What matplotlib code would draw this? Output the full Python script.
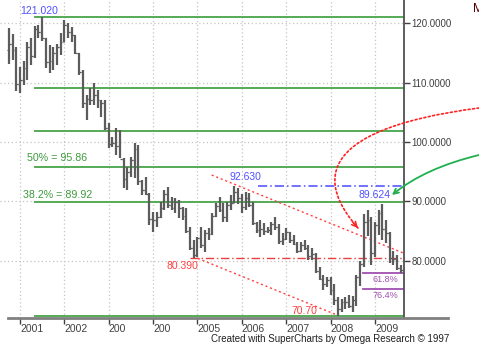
import numpy as np
import pandas as pd
import matplotlib
matplotlib.use('Agg')
import matplotlib.pyplot as plt
from matplotlib.path import Path
from matplotlib.patches import FancyArrowPatch

plt.rcParams['font.family'] = ['Liberation Sans', 'DejaVu Sans']

# Monthly bars, Oct 2000 - Aug 2009
months = pd.period_range('2000-10', '2009-08', freq='M')
opens = [115.5, 116.6, 115.5,
         109.8, 110.5, 112.5, 116.0, 114.5, 119.0, 118.5, 117.5, 113.5, 113.6, 115.0, 116.0,
         116.8, 119.8, 118.5, 118.0, 115.0, 111.8, 106.5, 107.3, 107.0, 108.0, 107.0, 106.5,
         102.3, 99.7, 99.9, 99.4, 97.2, 93.7, 95.0, 97.0, 98.8, 93.5, 92.0, 91.2,
         87.0, 86.8, 87.4, 88.8, 91.2, 89.4, 88.9, 89.9, 88.8, 87.6, 85.0, 82.1,
         81.0, 83.8, 82.6, 84.6, 84.5, 87.6, 89.3, 88.6, 87.4, 89.4, 89.8, 91.6,
         90.5, 89.0, 90.6, 89.4, 86.3, 85.2, 85.4, 85.0, 85.2, 86.2, 85.6, 83.4,
         83.7, 84.9, 83.5, 82.9, 81.6, 82.6, 82.2, 80.8, 81.2, 78.3, 76.9, 76.0,
         76.7, 75.1, 73.3, 71.9, 73.0, 73.0, 72.4, 73.3, 77.2, 79.4, 86.6, 86.8,
         81.3, 86.0, 88.0, 85.3, 84.6, 80.4, 80.3, 78.8]
highs = [119.2, 118.2, 116.0,
         112.6, 113.6, 116.8, 117.6, 119.5, 119.7, 121.02, 117.5, 116.3, 116.0, 116.6, 118.3,
         120.5, 120.0, 119.3, 118.0, 115.0, 112.1, 107.9, 109.1, 109.9, 108.7, 107.1, 107.1,
         103.2, 100.8, 102.4, 102.0, 97.3, 95.8, 97.5, 99.8, 99.5, 93.6, 94.1, 91.4,
         88.2, 88.2, 89.9, 91.9, 92.4, 90.8, 90.6, 90.3, 89.1, 88.9, 85.7, 83.5,
         84.0, 85.7, 85.2, 85.5, 88.1, 89.7, 90.8, 89.7, 89.9, 91.1, 92.63, 92.2,
         91.2, 91.6, 91.4, 89.9, 86.6, 86.9, 86.4, 85.7, 86.6, 87.4, 86.2, 84.6,
         85.5, 84.9, 84.4, 83.2, 83.2, 83.5, 82.7, 82.2, 81.3, 79.0, 77.6, 77.3,
         77.3, 76.0, 73.9, 73.5, 73.9, 74.3, 74.0, 77.6, 80.0, 87.9, 88.5, 87.3,
         86.6, 88.5, 89.624, 86.9, 84.9, 81.6, 81.0, 79.3]
lows = [113.1, 113.8, 108.6,
        108.2, 109.6, 110.4, 112.9, 114.1, 117.5, 117.1, 112.4, 111.6, 112.1, 112.9, 114.6,
        116.8, 117.5, 116.8, 114.8, 111.3, 105.7, 103.7, 106.2, 106.2, 105.7, 104.2, 102.0,
        99.0, 99.2, 97.8, 97.3, 92.3, 91.9, 94.1, 94.0, 92.8, 91.1, 91.1, 86.0,
        84.9, 85.7, 87.2, 88.6, 88.9, 88.6, 88.1, 87.2, 86.9, 84.7, 81.8, 80.39,
        80.7, 82.2, 81.5, 83.5, 84.4, 87.4, 88.2, 86.6, 86.6, 88.6, 89.7, 89.5,
        88.1, 88.6, 89.1, 86.1, 84.7, 84.0, 84.4, 84.7, 84.4, 85.2, 82.9, 82.6,
        83.5, 83.0, 82.7, 81.3, 81.5, 81.8, 80.2, 80.2, 78.0, 76.8, 75.1, 75.6,
        74.3, 72.6, 70.70, 71.4, 71.8, 72.1, 71.3, 72.3, 75.8, 79.0, 84.2, 79.3,
        80.6, 84.4, 83.5, 83.0, 79.7, 79.3, 78.5, 78.0]
closes = [116.6, 115.5, 109.8,
          110.5, 112.5, 116.0, 114.5, 119.0, 118.5, 117.5, 113.5, 113.6, 115.0, 116.0, 116.8,
          119.8, 118.5, 118.0, 115.0, 111.8, 106.5, 107.3, 107.0, 108.0, 107.0, 106.5, 102.3,
          99.7, 99.9, 99.4, 97.2, 93.7, 95.0, 97.0, 98.8, 93.5, 92.0, 91.2, 87.0,
          86.8, 87.4, 88.8, 91.2, 89.4, 88.9, 89.9, 88.8, 87.6, 85.0, 82.1, 81.0,
          83.8, 82.6, 84.6, 84.5, 87.6, 89.3, 88.6, 87.4, 89.4, 89.8, 91.6, 90.5,
          89.0, 90.6, 89.4, 86.3, 85.2, 85.4, 85.0, 85.2, 86.2, 85.6, 83.4, 83.7,
          84.9, 83.5, 82.9, 81.6, 82.6, 82.2, 80.8, 81.2, 78.3, 76.9, 76.0, 76.7,
          75.1, 73.3, 71.9, 73.0, 73.0, 72.4, 73.3, 77.2, 79.4, 86.6, 86.8, 81.3,
          86.0, 88.0, 85.3, 84.6, 80.4, 80.3, 78.8, 78.4]

# Fibonacci levels (121.02 high -> 70.70 low)
fib_levels = [121.02, 109.14, 101.80, 95.86, 89.92, 70.70]
fib_small = [77.93, 75.17]
fib_small_labels = ['61.8%', '76.4%']
year_ticks = [2001, 2002, 2003, 2004, 2005, 2006, 2007, 2008, 2009]
year_labels = ['2001', '2002', '200', '200', '2005', '2006', '2007', '2008', '2009']
price_ticks = [80, 90, 100, 110, 120]

x = months.year + (months.month - 1) / 12.0

fig = plt.figure(figsize=(4.79, 3.46), dpi=100)
ax = fig.add_axes([0, 28 / 346, 404 / 479, 318 / 346])
ax.set_xlim(2000.549, 2009.654)
ax.set_ylim(70.35, 123.93)

# grid
for yr in year_ticks:
    ax.axvline(yr, color='#c4c4c4', lw=0.9, ls=(0, (1, 2)), zorder=0)
for p in price_ticks:
    ax.axhline(p, color='#c4c4c4', lw=0.9, ls=(0, (1, 2)), zorder=0)

# fib lines
green = '#55aa55'
for lv in fib_levels:
    ax.plot([2001.34, 2009.654], [lv, lv], color=green, lw=1.4, zorder=1)
for lv in fib_small:
    ax.plot([2008.73, 2009.654], [lv, lv], color='#a050b0', lw=1.3, zorder=1)
for lv, lab in zip(fib_small, fib_small_labels):
    ax.text(2009.225, lv - 0.3, lab, color='#a050b0', fontsize=6.5, ha='center', va='top')

# support / resistance dash-dot
ax.plot([2006.36, 2009.654], [92.63, 92.63], color='#4a4aff', lw=1.1, ls=(0, (6, 2, 1, 2)), zorder=1)
ax.plot([2004.83, 2009.654], [80.39, 80.39], color='#e84040', lw=1.0, ls=(0, (6, 2, 1, 2)), zorder=1)

# channel lines
ax.plot([2005.01, 2008.144], [80.39, 70.85], color='#ff4040', lw=1.0, ls=(0, (1.5, 2)), zorder=1)
ax.plot([2005.32, 2009.654], [94.44, 81.25], color='#ff4040', lw=1.0, ls=(0, (1.5, 2)), zorder=1)

# OHLC bars
bar_col = '#5c5c5c'
ax.vlines(x, lows, highs, color=bar_col, lw=1.6, zorder=3)
ax.hlines(opens, x - 0.04, x, color=bar_col, lw=0.9, zorder=3)
ax.hlines(closes, x, x + 0.04, color=bar_col, lw=0.9, zorder=3)

# labels
ax.text(2001.0, 122.12, '121.020', color='#5050ff', fontsize=7.5, va='center')
ax.text(2001.15, 97.35, '50% = 95.86', color='#3d9a3d', fontsize=7.7, va='center')
ax.text(2001.06, 91.07, '38.2% = 89.92', color='#3d9a3d', fontsize=7.7, va='center')
ax.text(2005.72, 94.1, '92.630', color='#5050ff', fontsize=7.5, va='center')
ax.text(2008.62, 91.07, '89.624', color='#5050ff', fontsize=7.5, va='center')
ax.text(2005.01, 79.16, '80.390', color='#ff4040', fontsize=7.5, va='center', ha='right')
ax.text(2007.69, 71.58, '70.70', color='#ff4040', fontsize=7.5, va='center', ha='right')

# curved arrows
red_path = Path([(2011.344, 105.73), (2007.536, 102.03), (2007.761, 92.76), (2008.617, 85.51)],
                [Path.MOVETO, Path.CURVE4, Path.CURVE4, Path.CURVE4])
ax.add_patch(FancyArrowPatch(path=red_path, arrowstyle='-', color='#ff2020', lw=1.2,
                             ls=(0, (1.2, 1.5)), clip_on=False, zorder=4))
ax.annotate('', xy=(2008.617, 85.51), xytext=(2008.493, 86.55), annotation_clip=False,
            arrowprops=dict(arrowstyle='->', color='#ff2020', lw=1.1, shrinkA=0, shrinkB=0,
                            mutation_scale=9))
green_path = Path([(2011.344, 97.81), (2010.127, 95.62), (2009.383, 91.07)],
                  [Path.MOVETO, Path.CURVE3, Path.CURVE3])
ax.add_patch(FancyArrowPatch(path=green_path, arrowstyle='->', color='#20b050', lw=1.3,
                             mutation_scale=9, clip_on=False, zorder=4))

# axes styling
for s in ['top', 'left', 'bottom']:
    ax.spines[s].set_visible(False)
ax.spines['right'].set_color('#505050')
ax.spines['right'].set_linewidth(1.3)
ax.yaxis.tick_right()
ax.set_yticks(price_ticks)
ax.set_yticklabels([f'{p:.4f}' for p in price_ticks])
ax.tick_params(axis='y', direction='out', length=4, width=1, colors='#404040', labelsize=7, pad=1.5)
ax.set_xticks(year_ticks)
ax.set_xticklabels(year_labels)
ax.tick_params(axis='x', direction='out', length=4, width=1, colors='#404040', labelsize=7.5, pad=0.5)
plt.setp(ax.get_xticklabels(), ha='left')
ax.plot([2000.73, 2010.645], [70.35, 70.35], color='#808080', lw=2, clip_on=False, zorder=5)

fig.text(449 / 479, 7.5 / 346, 'Created with SuperCharts by Omega Research \u00a9 1997',
         ha='right', va='center', fontsize=7, color='#202020')
fig.text(473 / 479, 1 - 9 / 346, 'M', ha='left', va='center', fontsize=9, color='#500000')

fig.savefig('out.png', dpi=100)
